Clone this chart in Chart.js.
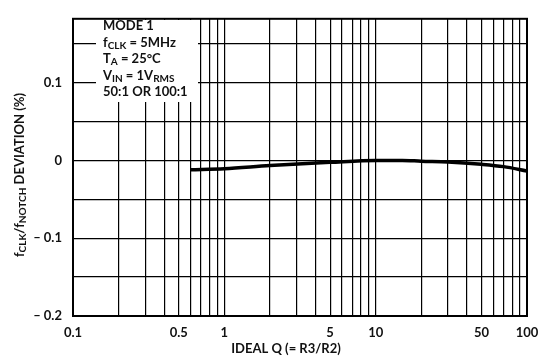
<!DOCTYPE html>
<html lang="en">
<head>
    <meta charset="UTF-8">
    <title>fCLK/fNOTCH deviation vs ideal Q</title>
    <style>
        body { margin: 0; background: #fff; }
        #wrap { width: 549px; height: 361px; }
    </style>
</head>
<body>
    <div id="wrap">
        <canvas id="myChart"></canvas>
    </div>

    <script src="https://cdn.jsdelivr.net/npm/chart.js"></script>
    <script>
        // curve
        const qValues   = [0.6, 1, 2, 5, 10, 15, 20, 30, 50, 70, 100];
        const deviation = [-0.012, -0.0107, -0.0066, -0.0025, 0, 0, -0.001, -0.002, -0.005, -0.008, -0.0136];

        // grid / labels
        const xGrid = [0.1,0.2,0.3,0.4,0.5,0.6,0.7,0.8,0.9,1,2,3,4,5,6,7,8,9,10,20,30,40,50,60,70,80,90,100];
        const xLabels = [0.1, 0.5, 1, 5, 10, 50, 100];
        const yGrid = [-0.2, -0.15, -0.1, -0.05, 0, 0.05, 0.1, 0.15];
        const yLabels = [-0.2, -0.1, 0, 0.1];

        const FONT = '"Lato", "Liberation Sans", sans-serif';

        // draws text with subscripts, parts = [[text, isSub], ...]
        function drawRich(c, x, y, parts) {
            let cx = x;
            for (const p of parts) {
                c.font = p[1] ? 'bold 10px ' + FONT : 'bold 13px ' + FONT;
                c.fillText(p[0], cx, p[1] ? y + 3 : y);
                cx += c.measureText(p[0]).width;
            }
            return cx - x;
        }
        function richWidth(c, parts) {
            let w = 0;
            for (const p of parts) {
                c.font = p[1] ? 'bold 10px ' + FONT : 'bold 13px ' + FONT;
                w += c.measureText(p[0]).width;
            }
            return w;
        }

        const extras = {
            id: 'extras',
            afterDraw(chart) {
                const c = chart.ctx;
                const a = chart.chartArea;
                c.save();
                // frame
                c.strokeStyle = '#000';
                c.lineWidth = 2;
                c.strokeRect(a.left, a.top, a.right - a.left, a.bottom - a.top);

                // condition box
                c.fillStyle = '#fff';
                c.fillRect(96, 20, 102, 82);
                c.fillStyle = '#111';
                c.textBaseline = 'middle';
                c.textAlign = 'left';
                const lines = [
                    [['MODE 1', false]],
                    [['f', false], ['CLK', true], [' = 5MHz', false]],
                    [['T', false], ['A', true], [' = 25°C', false]],
                    [['V', false], ['IN', true], [' = 1V', false], ['RMS', true]],
                    [['50:1 OR 100:1', false]]
                ];
                lines.forEach((ln, i) => drawRich(c, 103, 26 + i * 16.5, ln));

                // x title
                c.font = 'bold 13px ' + FONT;
                c.textAlign = 'center';
                c.fillText('IDEAL Q (= R3/R2)', 286, 349);

                // y title, rotated
                const yt = [['f', false], ['CLK', true], ['/f', false], ['NOTCH', true], [' DEVIATION (%)', false]];
                c.translate(20, 175);
                c.rotate(-Math.PI / 2);
                c.textAlign = 'left';
                const w = richWidth(c, yt);
                drawRich(c, -w / 2, 0, yt);
                c.restore();
            }
        };

        const ctx = document.getElementById('myChart');
        new Chart(ctx, {
            type: 'line',
            data: {
                datasets: [{
                    data: qValues.map((q, i) => ({ x: q, y: deviation[i] })),
                    borderColor: '#000',
                    borderWidth: 3.5,
                    pointRadius: 0,
                    cubicInterpolationMode: 'monotone'
                }]
            },
            options: {
                responsive: true,
                maintainAspectRatio: false,
                animation: false,
                layout: { padding: { top: 6, right: 22, left: 0, bottom: 0 } },
                plugins: { legend: { display: false }, tooltip: { enabled: false } },
                scales: {
                    x: {
                        type: 'logarithmic',
                        min: 0.1,
                        max: 100,
                        afterBuildTicks: s => { s.ticks = xGrid.map(v => ({ value: v })); },
                        afterFit: s => { s.height = 45; },
                        grid: { color: '#000', lineWidth: 1.2, drawTicks: false },
                        border: { display: false },
                        ticks: {
                            autoSkip: false,
                            maxRotation: 0,
                            padding: 9,
                            color: '#111',
                            font: { family: FONT, size: 13, weight: 'bold' },
                            callback: v => xLabels.includes(v) ? String(v) : ''
                        }
                    },
                    y: {
                        min: -0.2,
                        max: 0.182,
                        afterBuildTicks: s => { s.ticks = yGrid.map(v => ({ value: v })); },
                        afterFit: s => { s.width = 73; },
                        grid: { color: '#000', lineWidth: 1.2, drawTicks: false },
                        border: { display: false },
                        ticks: {
                            autoSkip: false,
                            padding: 11,
                            color: '#111',
                            font: { family: FONT, size: 13, weight: 'bold' },
                            callback: v => {
                                const r = Math.round(v * 100) / 100;
                                if (!yLabels.includes(r)) return '';
                                if (r === 0) return '0';
                                return r < 0 ? '\u2013 ' + Math.abs(r) : String(r);
                            }
                        }
                    }
                }
            },
            plugins: [extras]
        });
    </script>
</body>
</html>
